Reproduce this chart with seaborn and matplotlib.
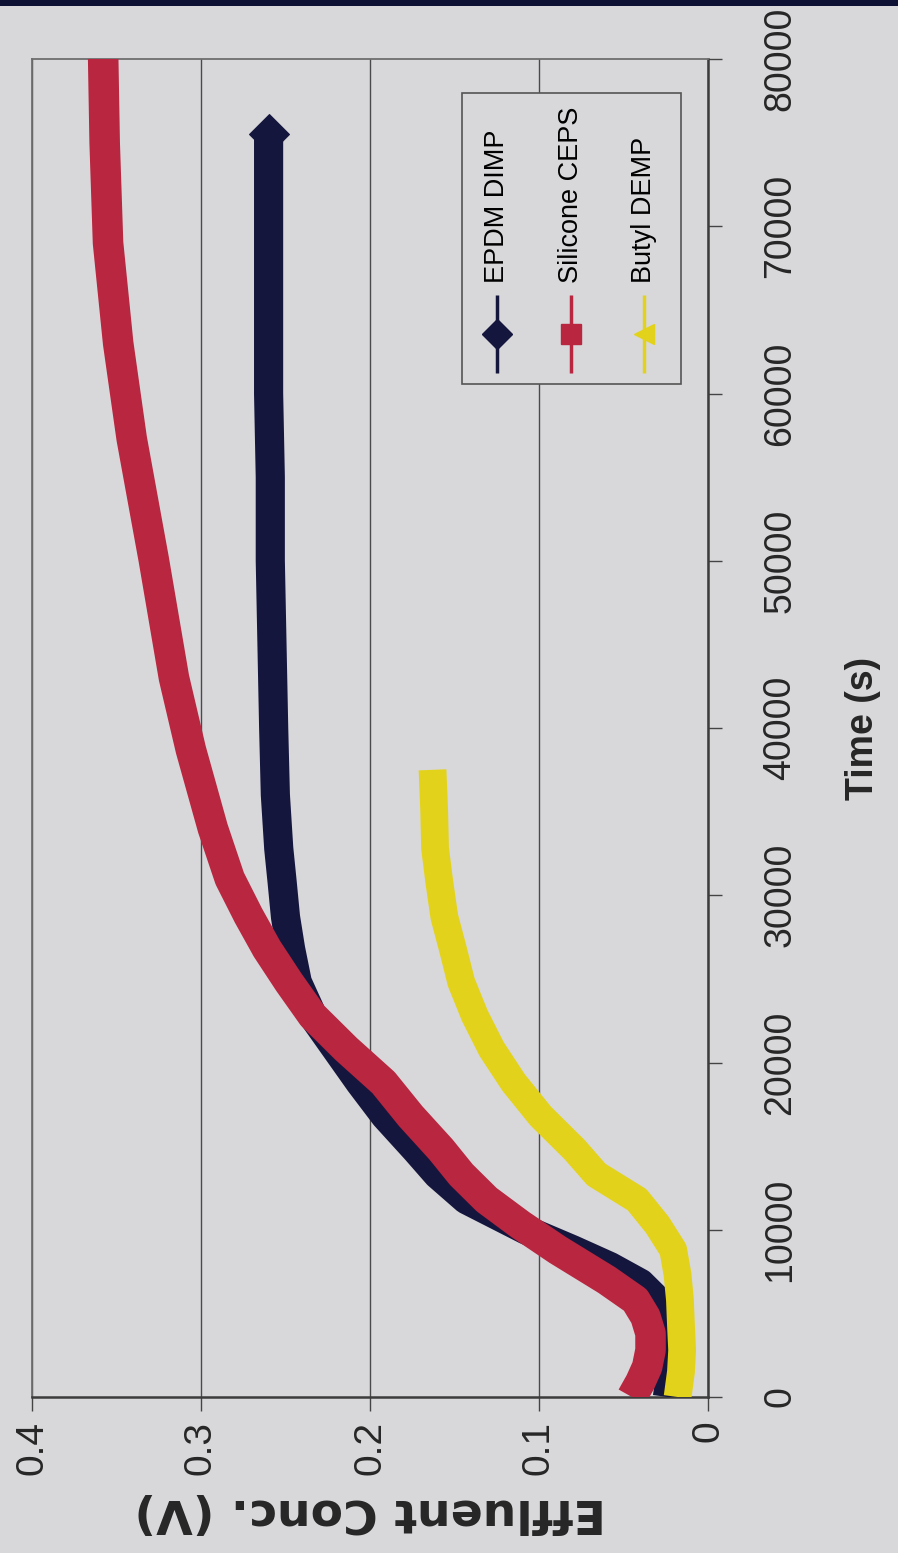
import matplotlib
matplotlib.use("Agg")
import matplotlib.pyplot as plt
from matplotlib.patches import Rectangle
import seaborn as sns
import pandas as pd

# ---------------- data ----------------
time_epdm = [0, 1500, 3000, 4500, 5800, 6800, 7800, 8800, 10000, 11800, 13300, 14800,
             16800, 18800, 20800, 22800, 24800, 26800, 28700, 30800, 32800, 36000,
             40000, 45000, 50000, 55000, 60000, 65000, 70000, 75500]
conc_epdm = [0.024, 0.022, 0.021, 0.023, 0.030, 0.040, 0.058, 0.080, 0.108, 0.143, 0.160, 0.173,
             0.191, 0.206, 0.220, 0.234, 0.243, 0.247, 0.250, 0.252, 0.254, 0.256,
             0.257, 0.258, 0.259, 0.259, 0.260, 0.260, 0.260, 0.260]

time_sil = [0, 900, 1800, 2800, 3800, 4800, 5800, 7000, 8800, 10300, 11800, 13300, 14800,
            16800, 18800, 20800, 22800, 24800, 26800, 28800, 31000, 34000, 38700, 43000,
            50100, 57300, 63000, 69000, 75000, 80700]
conc_sil = [0.045, 0.040, 0.036, 0.034, 0.034, 0.037, 0.043, 0.060, 0.089, 0.111, 0.131, 0.146, 0.158,
            0.176, 0.192, 0.214, 0.234, 0.248, 0.261, 0.272, 0.283, 0.293, 0.306, 0.316,
            0.328, 0.341, 0.349, 0.355, 0.357, 0.358]

time_but = [0, 1500, 2800, 4300, 5800, 7300, 8800, 10300, 11800, 13300, 14800, 16800, 18800,
            20800, 22800, 24800, 26800, 28700, 30800, 32800, 35000, 37500]
conc_but = [0.018, 0.016, 0.0153, 0.016, 0.0166, 0.018, 0.0206, 0.030, 0.042, 0.066, 0.079, 0.099, 0.115,
            0.128, 0.138, 0.146, 0.151, 0.156, 0.159, 0.1615, 0.162, 0.163]

series_names = ["EPDM DIMP", "Silicone CEPS", "Butyl DEMP"]
series_colors = ["#15163d", "#b8263f", "#e3d21c"]
series_markers = ["D", "s", "<"]

time_ticks = [0, 10000, 20000, 30000, 40000, 50000, 60000, 70000, 80000]
time_labels = ["0", "10000", "20000", "30000", "40000", "50000", "60000", "70000", "80000"]
conc_ticks = [0, 0.1, 0.2, 0.3, 0.4]
conc_labels = ["0", "0.1", "0.2", "0.3", "0.4"]

# ---------------- style ----------------
BG = "#d8d8db"
sns.set_style("white")
plt.rcParams["font.family"] = ["Liberation Sans", "DejaVu Sans"]

fig = plt.figure(figsize=(8.98, 15.53), dpi=100, facecolor=BG)
ax = fig.add_axes([32 / 898, 1 - 1397 / 1553, 676 / 898, 1338 / 1553])
ax.set_facecolor(BG)

frames = [
    pd.DataFrame({"conc": conc_epdm, "time": time_epdm}),
    pd.DataFrame({"conc": conc_sil, "time": time_sil}),
    pd.DataFrame({"conc": conc_but, "time": time_but}),
]
widths = [21, 22, 20]
end_ms = [20, 0, 0]
for df, col, mk, lw, ms in zip(frames, series_colors, series_markers, widths, end_ms):
    sns.lineplot(data=df, x="conc", y="time", sort=False, estimator=None, ax=ax,
                 color=col, linewidth=lw, marker=mk if ms else None,
                 markersize=ms, markevery=[len(df) - 1] if ms else None,
                 markeredgecolor=col, markerfacecolor=col, legend=False, zorder=3,
                 solid_capstyle="butt", solid_joinstyle="round")

ax.set_xlim(0.4, 0)
ax.set_ylim(0, 80000)

ax.set_xticks(conc_ticks)
ax.set_xticklabels(conc_labels, rotation=90, fontsize=28)
ax.grid(axis="x", color="#4a4a4a", linewidth=1.0, zorder=1)
ax.grid(axis="y", visible=False)
ax.set_axisbelow(True)

ax.yaxis.tick_right()
ax.yaxis.set_label_position("right")
ax.set_yticks(time_ticks)
ax.set_yticklabels(time_labels, rotation=90, fontsize=27, va="center")

ax.tick_params(axis="x", direction="out", length=10, width=1, color="#444444", pad=7, bottom=True)
ax.tick_params(axis="y", direction="out", length=10, width=1, color="#444444", pad=29, right=True, left=False)

for side in ["left", "top"]:
    ax.spines[side].set_color("#6e6e6e")
    ax.spines[side].set_linewidth(1.3)
for side in ["right", "bottom"]:
    ax.spines[side].set_color("#3c3c3c")
    ax.spines[side].set_linewidth(1.8)

ax.set_xlabel("Effluent Conc. (V)", rotation=180, fontsize=34, fontweight="bold",
              family=["DejaVu Sans"], labelpad=10)
ax.set_ylabel("Time (s)", rotation=90, fontsize=27, fontweight="bold", labelpad=34)

# ---------------- legend (rotated, drawn manually) ----------------
box = Rectangle((0.636, 0.757), 0.324, 0.2176, transform=ax.transAxes,
                facecolor=BG, edgecolor="#555555", linewidth=1.2, zorder=5)
ax.add_patch(box)
leg_x = [0.688, 0.797, 0.905]
for xx, name, col, mk in zip(leg_x, series_names, series_colors, series_markers):
    ax.plot([xx, xx], [0.7653, 0.8236], transform=ax.transAxes, color=col, lw=2.5,
            zorder=6, solid_capstyle="butt")
    ax.plot([xx], [0.7945], transform=ax.transAxes, color=col, marker=mk,
            markersize=15 if mk != "s" else 14, zorder=7, markeredgecolor=col)
    ax.text(xx, 0.8326, name, transform=ax.transAxes, rotation=90, ha="center", va="bottom",
            fontsize=19.5, color="black", zorder=7)

# top dark band of the scan
fig.add_artist(Rectangle((0, 1 - 6 / 1553), 1, 6 / 1553, transform=fig.transFigure,
                         facecolor="#0e1133", edgecolor="none"))

fig.savefig("out.png", dpi=100, facecolor=BG)
